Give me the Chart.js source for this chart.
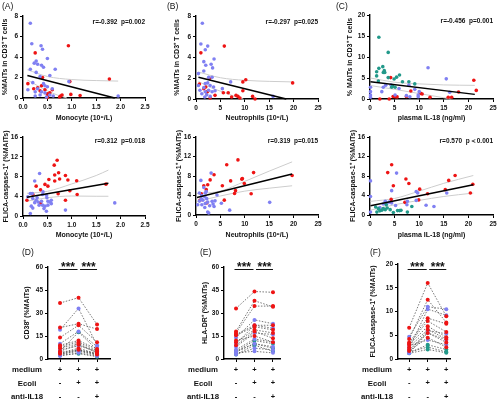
<!DOCTYPE html>
<html>
<head>
<meta charset="utf-8">
<script src="https://cdn.jsdelivr.net/npm/chart.js@4"></script>
<style>
body{margin:0;background:#fff;width:500px;height:401px;position:relative;overflow:hidden}
canvas{position:absolute}
</style>
</head>
<body>
<canvas id="cA" width="165" height="123" style="left:0;top:0"></canvas>
<canvas id="cB" width="165" height="123" style="left:165px;top:0"></canvas>
<canvas id="cC" width="170" height="123" style="left:330px;top:0"></canvas>
<canvas id="cA2" width="165" height="115" style="left:0;top:125px"></canvas>
<canvas id="cB2" width="165" height="115" style="left:165px;top:125px"></canvas>
<canvas id="cC2" width="170" height="115" style="left:330px;top:125px"></canvas>
<canvas id="cD" width="165" height="156" style="left:0;top:245px"></canvas>
<canvas id="cE" width="165" height="156" style="left:165px;top:245px"></canvas>
<canvas id="cF" width="170" height="156" style="left:330px;top:245px"></canvas>
<script>
// colours of the three patient groups
const RED = '#ee1414', BLUE = '#8080f2', TEAL = '#22998a';

// ---- (A) top: monocyte vs %MAITs ----
const monoMaitBlue = [[0.15,7.3],[0.18,5.3],[0.37,5.1],[0.4,4.75],[0.5,3.85],[0.27,3.6],[0.3,3.3],[0.23,3.4],[0.38,3.2],[0.42,3.0],[0.66,2.8],[0.15,2.8],[0.27,2.5],[0.55,2.2],[0.35,2.1],[0.2,1.5],[0.42,1.4],[0.45,1.2],[0.5,1.1],[0.6,0.9],[0.3,0.9],[0.25,0.6],[0.38,0.6],[0.45,0.5],[0.55,0.3],[0.62,0.2],[0.25,0.2],[0.94,1.6],[1.95,0.2],[0.48,0.1],[0.1,0.8],[0.35,0.3]];
const monoMaitRed = [[0.25,4.4],[0.93,5.1],[0.4,2.0],[0.1,1.4],[0.22,0.9],[0.3,1.0],[0.35,0.7],[0.38,1.2],[0.45,0.8],[0.5,0.4],[0.55,0.5],[0.5,0.15],[0.6,0.8],[0.75,0.1],[0.77,0.2],[0.8,0.3],[0.98,0.35],[0.96,1.6],[1.17,0.25],[1.77,1.85],[0.5,0.05]];
const monoMaitFit = [[0.09,2.2],[1.88,0]];
const monoMaitHi = [[0.09,2.75],[0.5,2.1],[1.0,1.8],[1.5,1.7],[1.95,1.65]];
const monoMaitLo = [[0.09,1.75],[0.3,1.2],[0.5,0.7],[0.7,0.3],[0.9,0]];

// ---- (B) top: neutrophils vs %MAITs ----
const neuMaitBlue = [[1.3,7.3],[1.0,5.3],[2.4,5.1],[1.9,4.75],[3.7,3.85],[1.6,3.6],[2.0,3.25],[3.1,3.35],[3.4,3.0],[0.5,2.45],[1.6,2.7],[2.6,2.1],[3.3,2.1],[7.1,1.65],[1.9,1.5],[2.4,1.55],[2.9,1.3],[3.6,1.15],[1.6,1.1],[0.8,0.85],[1.9,0.7],[2.6,0.85],[3.3,0.7],[1.2,0.5],[2.2,0.4],[1.8,0.2],[2.9,0.25],[5.4,1.0],[15.8,0.25],[0.5,1.3],[3.9,0.8]];
const neuMaitRed = [[1.0,4.45],[5.8,5.1],[2.8,2.0],[0.7,1.45],[1.6,1.0],[2.0,1.15],[2.4,0.75],[2.2,0.65],[3.9,0.35],[5.6,0.6],[6.6,0.6],[7.3,0.2],[8.2,0.35],[8.6,0.25],[9.0,0.1],[9.6,0.8],[9.6,1.65],[10.2,1.85],[11.6,0.25],[12.1,0],[19.8,1.55],[2.9,0.1]];
const neuMaitFit = [[0.5,2.1],[18.5,0]];
const neuMaitHi = [[0.5,2.6],[5,2.05],[10,1.8],[15,1.7],[19.5,1.65]];
const neuMaitLo = [[0.5,1.7],[3,1.1],[6,0.6],[8.5,0.15],[9.7,0]];

// ---- (C) top: plasma IL-18 vs %MAITs ----
const il18MaitTeal = [[1.8,14.7],[3.7,11.1],[1.35,6.5],[1.8,7.3],[2.6,7.7],[2.9,6.75],[2.7,6.3],[3.0,6.3],[1.35,5.5],[1.7,4.3],[3.7,5.1],[4.9,4.75],[6.0,5.7],[5.4,5.2],[6.6,4.1],[7.9,4.1],[9.1,3.6],[4.6,3.1],[5.1,2.8],[4.4,2.8]];
const il18MaitBlue = [[0.1,2.8],[0.1,1.75],[0.1,0.95],[0.1,0.4],[2.7,2.8],[3.2,3.3],[4.3,3.3],[5.9,2.5],[7.9,3.3],[9.1,2.3],[10.0,1.75],[9.8,0.95],[9.8,0.55],[8.1,0.55],[11.8,7.45],[15.5,4.8],[16.2,1.6],[7.4,0.8],[5.1,0.95],[2.4,1.75]];
const il18MaitRed = [[4.2,5.1],[3.9,0],[4.7,0.6],[5.1,0.55],[7.4,0.6],[8.3,1.9],[10.3,1.35],[10.6,1.2],[12.2,0.4],[15.9,0.4],[16.6,0.4],[18.0,1.65],[21.1,4.45],[21.6,2.05],[5.5,0.5],[2.0,0]];
const il18MaitFit = [[0.1,4.1],[21.3,1.1]];
const il18MaitHi = [[0.1,5.0],[5,4.0],[10,3.6],[15,3.35],[21.3,3.25]];
const il18MaitLo = [[0.1,3.2],[5,2.3],[10,1.3],[15,0.3],[16.5,0]];

// ---- middle: monocyte vs FLICA-caspase-1 ----
const monoFlicaBlue = [[0.34,8.6],[0.24,7.1],[0.15,4.55],[0.19,4.55],[0.1,3.9],[0.4,4.35],[0.41,4.9],[0.48,4.2],[0.49,3.7],[0.27,3.2],[0.31,2.85],[0.24,2.7],[0.38,3.0],[0.51,3.0],[0.55,2.85],[0.58,3.2],[0.33,2.2],[0.4,2.2],[0.45,2.0],[0.51,2.2],[0.17,2.0],[0.2,1.6],[0.43,1.5],[0.48,0.95],[0.58,2.5],[0.15,0.5],[0.87,1.2],[1.88,2.65],[0.2,3.55],[0.29,3.7]];
const monoFlicaRed = [[0.7,11.3],[0.64,10.3],[0.65,8.3],[0.73,8.75],[0.75,7.5],[0.53,7.4],[0.65,7.1],[0.51,6.05],[0.87,8.2],[0.92,7.3],[1.1,7.15],[0.96,5.1],[0.72,4.5],[1.11,4.35],[0.87,3.2],[1.7,6.45],[0.36,2.65],[0.2,4.4],[0.08,3.2],[0.36,5.3],[0.27,6.05],[0.45,6.4]];
const monoFlicaFit = [[0.08,3.8],[1.75,6.65]];
const monoFlicaHi = [[0.08,4.6],[0.5,5.0],[1.0,6.5],[1.5,8.2],[1.75,9.3]];
const monoFlicaLo = [[0.08,3.0],[0.5,3.7],[1.0,4.05],[1.5,4.0],[1.75,4.0]];

// ---- middle: neutrophils vs FLICA-caspase-1 ----
const neuFlicaBlue = [[3.1,8.6],[1.0,7.1],[1.6,5.65],[0.7,4.5],[1.2,4.0],[1.9,4.5],[2.1,4.8],[1.8,3.75],[2.2,3.35],[1.4,3.05],[0.7,2.85],[2.4,2.65],[3.3,2.8],[3.9,2.9],[4.3,4.1],[3.5,2.25],[2.8,1.9],[1.2,2.1],[1.8,1.55],[2.4,0.6],[2.6,0.4],[3.7,1.75],[5.2,2.4],[6.9,1.0],[15.1,2.6],[0.35,2.1],[1.9,2.35],[1.1,3.3]];
const neuFlicaRed = [[0.8,3.0],[1.1,4.35],[1.6,6.0],[2.9,7.2],[2.4,6.2],[3.7,8.25],[2.1,5.2],[2.2,2.45],[5.4,6.0],[5.8,3.05],[6.3,10.3],[8.6,11.3],[7.1,7.0],[7.9,4.4],[8.1,5.0],[9.4,7.35],[9.5,7.5],[9.9,6.45],[11.8,8.7],[11.3,4.35],[19.7,8.1]];
const neuFlicaFit = [[0.2,3.6],[19.7,8.4]];
const neuFlicaHi = [[0.2,4.4],[5,4.9],[10,6.9],[15,9.0],[19.7,10.9]];
const neuFlicaLo = [[0.2,2.8],[5,3.9],[10,4.9],[15,5.5],[19.7,6.0]];

// ---- middle: plasma IL-18 vs FLICA-caspase-1 ----
const il18FlicaBlue = [[0.1,7.0],[0.1,3.8],[0.1,0.6],[5.4,8.6],[4.4,5.0],[3.1,2.8],[2.7,2.25],[3.4,2.3],[3.9,2.65],[4.4,2.45],[2.0,1.55],[5.2,1.95],[7.6,2.8],[7.5,2.1],[9.4,4.8],[9.7,4.5],[9.4,3.0],[11.4,2.0],[13.0,1.75],[15.6,4.5]];
const il18FlicaTeal = [[1.15,1.65],[1.7,1.3],[1.4,0.6],[2.4,1.0],[2.7,1.3],[3.1,1.1],[3.5,1.45],[4.1,1.1],[4.75,0.5],[5.6,0.9],[6.0,0.9],[6.3,0.95],[7.6,0.6],[8.5,1.75],[3.3,2.1],[2.0,0.85]];
const il18FlicaRed = [[3.6,8.7],[4.4,10.3],[4.75,6.0],[4.3,3.2],[7.3,7.4],[7.9,6.45],[7.1,2.6],[9.9,3.1],[10.1,5.3],[11.7,4.35],[15.3,5.2],[16.0,7.1],[17.3,8.1],[20.4,4.5],[20.9,6.3]];
const il18FlicaFit = [[0.1,1.9],[21,6.2]];
const il18FlicaHi = [[0.1,2.8],[5,3.4],[10,4.9],[15,6.5],[21,8.1]];
const il18FlicaLo = [[0.1,1.0],[5,2.1],[10,3.0],[15,3.8],[21,4.5]];

// ---- bottom: paired values (medium, Ecoli, Ecoli + anti-IL18) ----
const conditions = ['medium', 'Ecoli', 'anti-IL18'];
const conditionSigns = [['+','+','+'], ['-','+','+'], ['-','-','+']];
const sigLabel = '***';

const cd38Red = [[36.5,40,22.5],[20.5,23,19.5],[14,22,11],[9,12,6.5],[8,11,5.5],[7,10,4.5],[5,9.5,4],[4,7,3.5],[3.5,6,3]];
const cd38Blue = [[19,33,9],[10,18,8],[6,8.5,5],[4,6,3.5],[3,5,2.5],[2,4,2]];
const cd38Teal = [[5,17.5,6],[3,5.5,3],[2.5,3.5,1.5]];

const hladrRed = [[33,44,43.5],[18,38,34],[17,34.5,34.5],[16,22,22],[15.5,21,19],[11,19,17],[9,18,13.5],[12,15,11]];
const hladrBlue = [[14,25.5,23],[10,22,20],[8,17,16],[6,13,11],[5,10,8],[3,7,6],[4,5,4]];
const hladrTeal = [[5,12,10],[4.5,10,7],[3,9,5]];

const flicaRed = [[6.6,16,9],[4.2,12.5,7.7],[3.5,8.6,7.4],[3.2,8,5.7],[3,6.9,4.6],[2.5,6.2,4.2],[2,5.5,3.5],[1.7,4.5,2.5]];
const flicaBlue = [[4.7,11,10.5],[2.2,10.5,9.2],[1.5,6,5.3],[1.2,5.5,4],[2.8,4,3]];
const flicaTeal = [[1.3,3,2],[1.5,2.5,1.5],[1.2,2,1.3]];

Chart.defaults.font.family = '"Liberation Sans", Arial, sans-serif';
Chart.defaults.color = '#111';
const FONT = '"Liberation Sans", Arial, sans-serif';

const pts = a => a.map(p => ({x: p[0], y: p[1]}));

// panel letters, r/p text, condition table and significance brackets
const panelDecor = {
  id: 'panelDecor',
  afterDraw(chart, args, o) {
    const c = chart.ctx, a = chart.chartArea, xs = chart.scales.x;
    c.save();
    c.fillStyle = '#111';
    c.strokeStyle = '#111';
    if (o.label) {
      c.font = '8.5px ' + FONT;
      c.textAlign = 'left';
      c.textBaseline = 'top';
      c.fillText(o.label, o.lx, o.ly);
    }
    if (o.stat) {
      c.font = 'bold 6.5px ' + FONT;
      c.textAlign = 'right';
      c.textBaseline = 'middle';
      c.fillText(o.stat, a.right, a.top + o.sy);
    }
    if (o.rows) {
      c.textAlign = 'center';
      c.textBaseline = 'middle';
      o.rows.forEach((r, k) => {
        const y = a.bottom + 11 + k * 13.4;
        c.font = 'bold 7.8px ' + FONT;
        c.fillText(r, a.left - 21, y);
        c.font = 'bold 7.5px ' + FONT;
        o.signs[k].forEach((s, i) => c.fillText(s, xs.getPixelForValue(i), y));
      });
    }
    if (o.stars) {
      const y = a.top + o.by;
      c.lineWidth = 1;
      [[0, 1], [1, 2]].forEach(([i, j]) => {
        const x0 = xs.getPixelForValue(i) + (i ? 1.5 : -1.5);
        const x1 = xs.getPixelForValue(j) + (j === 2 ? 0 : -1);
        c.beginPath(); c.moveTo(x0, y); c.lineTo(x1, y); c.stroke();
        c.font = 'bold 12px ' + FONT;
        c.textAlign = 'center';
        c.textBaseline = 'alphabetic';
        c.fillText(o.stars, (x0 + x1) / 2, y + 1.5);
      });
    }
    c.restore();
  }
};
Chart.register(panelDecor);

function axis(min, max, step, fmt, title, fit) {
  return {
    type: 'linear', min: min, max: max,
    grid: {drawOnChartArea: false, drawTicks: true, tickLength: 3, color: '#000', lineWidth: 1},
    border: {color: '#000', width: 1.4},
    ticks: {stepSize: step, padding: 2, color: '#111', font: {size: 6.5, weight: 'bold'}, callback: fmt},
    title: title ? {display: true, text: title, color: '#111', font: {size: 7, weight: 'bold'}, padding: {top: 1, bottom: 1}} : {display: false},
    afterFit: fit
  };
}

// p: canvas width/height, chart-area left/right/top/bottom (canvas px), y title centre
function layoutOf(p) {
  const padLeft = p.tx - 5;
  return {
    padding: {left: padLeft, top: p.top, right: p.w - p.right, bottom: 0},
    yFit: s => { s.width = p.left - padLeft; },
    xFit: s => { s.height = p.h - p.bottom; }
  };
}

function scatterPanel(id, p) {
  const L = layoutOf(p);
  const ds = [
    {type: 'line', data: pts(p.fit), borderColor: '#000', borderWidth: 1.5, pointRadius: 0, order: 0, clip: false},
    {type: 'line', data: pts(p.hi), borderColor: '#cdcdcd', borderWidth: 1, pointRadius: 0, cubicInterpolationMode: 'monotone', order: 2, clip: false},
    {type: 'line', data: pts(p.lo), borderColor: '#cdcdcd', borderWidth: 1, pointRadius: 0, cubicInterpolationMode: 'monotone', order: 2, clip: false}
  ];
  p.groups.forEach(g => ds.push({data: pts(g[0]), backgroundColor: g[1], borderWidth: 0, pointRadius: 1.8, order: 1, clip: false}));
  new Chart(document.getElementById(id), {
    type: 'scatter',
    data: {datasets: ds},
    options: {
      responsive: false, animation: false,
      layout: {padding: L.padding},
      plugins: {legend: {display: false}, tooltip: {enabled: false},
        panelDecor: {label: p.label, lx: p.lx, ly: 2, stat: p.stat, sy: p.sy}},
      scales: {
        x: axis(0, p.xMax, p.xStep, p.xFmt, p.xTitle, L.xFit),
        y: axis(0, p.yMax, p.yStep, v => v, p.yTitle, L.yFit)
      }
    }
  });
}

function pairedPanel(id, p) {
  const L = layoutOf(p);
  const ds = [];
  p.groups.forEach(g => g[0].forEach(v => ds.push({
    data: v.map((y, i) => ({x: i, y: y})), showLine: true,
    borderColor: '#555', borderWidth: 0.8, borderDash: [1.5, 1.5],
    pointRadius: 2, pointBackgroundColor: g[1], pointBorderWidth: 0, clip: false
  })));
  const x = axis(p.xMin, p.xMax, 1, () => '', null, L.xFit);
  x.afterBuildTicks = s => { s.ticks = [{value: 0}, {value: 1}, {value: 2}]; };
  new Chart(document.getElementById(id), {
    type: 'scatter',
    data: {datasets: ds},
    options: {
      responsive: false, animation: false,
      layout: {padding: L.padding},
      plugins: {legend: {display: false}, tooltip: {enabled: false},
        panelDecor: {label: p.label, lx: p.lx, ly: 3, rows: conditions, signs: conditionSigns, stars: sigLabel, by: p.by}},
      scales: {x: x, y: axis(0, p.yMax, p.yStep, v => v, p.yTitle, L.yFit)}
    }
  });
}

const maitTitle = '%MAITs in CD3\u207A T cells';
const flicaTitle = 'FLICA-caspase-1\u207A (%MAITs)';
const monoTitle = 'Monocyte (10\u2079/L)';
const neuTitle = 'Neutrophils (10\u2079/L)';
const il18Title = 'plasma IL-18 (ng/ml)';
const fix1 = v => v.toFixed(1);
const plain = v => v;

scatterPanel('cA', {w: 165, h: 123, left: 23, right: 145, top: 16, bottom: 98, tx: 5,
  label: '(A)', lx: 2, stat: 'r=-0.392  p=0.002', sy: 6,
  xMax: 2.5, xStep: 0.5, xFmt: fix1, xTitle: monoTitle, yMax: 8, yStep: 2, yTitle: maitTitle,
  fit: monoMaitFit, hi: monoMaitHi, lo: monoMaitLo, groups: [[monoMaitBlue, BLUE], [monoMaitRed, RED]]});
scatterPanel('cB', {w: 165, h: 123, left: 31, right: 153, top: 16, bottom: 99, tx: 12,
  label: '(B)', lx: 2, stat: 'r=-0.297  p=0.025', sy: 6,
  xMax: 25, xStep: 5, xFmt: plain, xTitle: neuTitle, yMax: 8, yStep: 2, yTitle: maitTitle,
  fit: neuMaitFit, hi: neuMaitHi, lo: neuMaitLo, groups: [[neuMaitBlue, BLUE], [neuMaitRed, RED]]});
scatterPanel('cC', {w: 170, h: 123, left: 40, right: 163, top: 15, bottom: 99, tx: 20,
  label: '(C)', lx: 6, stat: 'r=-0.456  p=0.001', sy: 6,
  xMax: 25, xStep: 5, xFmt: plain, xTitle: il18Title, yMax: 20, yStep: 5, yTitle: '% MAITs in CD3\u207A T cells',
  fit: il18MaitFit, hi: il18MaitHi, lo: il18MaitLo, groups: [[il18MaitTeal, TEAL], [il18MaitBlue, BLUE], [il18MaitRed, RED]]});

scatterPanel('cA2', {w: 165, h: 115, left: 23, right: 145, top: 12, bottom: 91, tx: 6,
  stat: 'r=0.312  p=0.018', sy: 4,
  xMax: 2.5, xStep: 0.5, xFmt: fix1, xTitle: monoTitle, yMax: 16, yStep: 4, yTitle: flicaTitle,
  fit: monoFlicaFit, hi: monoFlicaHi, lo: monoFlicaLo, groups: [[monoFlicaBlue, BLUE], [monoFlicaRed, RED]]});
scatterPanel('cB2', {w: 165, h: 115, left: 31, right: 153, top: 12, bottom: 90, tx: 14,
  stat: 'r=0.319  p=0.015', sy: 4,
  xMax: 25, xStep: 5, xFmt: plain, xTitle: neuTitle, yMax: 16, yStep: 4, yTitle: flicaTitle,
  fit: neuFlicaFit, hi: neuFlicaHi, lo: neuFlicaLo, groups: [[neuFlicaBlue, BLUE], [neuFlicaRed, RED]]});
scatterPanel('cC2', {w: 170, h: 115, left: 40, right: 163, top: 12, bottom: 90, tx: 23,
  stat: 'r=0.570  p\uFF1C0.001', sy: 4,
  xMax: 25, xStep: 5, xFmt: plain, xTitle: il18Title, yMax: 16, yStep: 4, yTitle: flicaTitle,
  fit: il18FlicaFit, hi: il18FlicaHi, lo: il18FlicaLo, groups: [[il18FlicaTeal, TEAL], [il18FlicaBlue, BLUE], [il18FlicaRed, RED]]});

pairedPanel('cD', {w: 165, h: 156, left: 48, right: 110, top: 22, bottom: 114, tx: 27,
  label: '(D)', lx: 22, xMin: -0.65, xMax: 2.7, yMax: 60, yStep: 15, by: 2.5,
  yTitle: 'CD38\u207A (%MAITs)', groups: [[cd38Red, RED], [cd38Blue, BLUE], [cd38Teal, TEAL]]});
pairedPanel('cE', {w: 165, h: 156, left: 59, right: 115, top: 22, bottom: 114, tx: 40,
  label: '(E)', lx: 35, xMin: -0.65, xMax: 2.38, yMax: 60, yStep: 15, by: 2.5,
  yTitle: 'HLA-DR\u207A (%MAITs)', groups: [[hladrRed, RED], [hladrBlue, BLUE], [hladrTeal, TEAL]]});
pairedPanel('cF', {w: 170, h: 156, left: 68, right: 120, top: 19, bottom: 114, tx: 43,
  label: '(F)', lx: 40, xMin: -0.6, xMax: 2.2, yMax: 20, yStep: 5, by: 5.5,
  yTitle: flicaTitle, groups: [[flicaRed, RED], [flicaBlue, BLUE], [flicaTeal, TEAL]]});
</script>
</body>
</html>
